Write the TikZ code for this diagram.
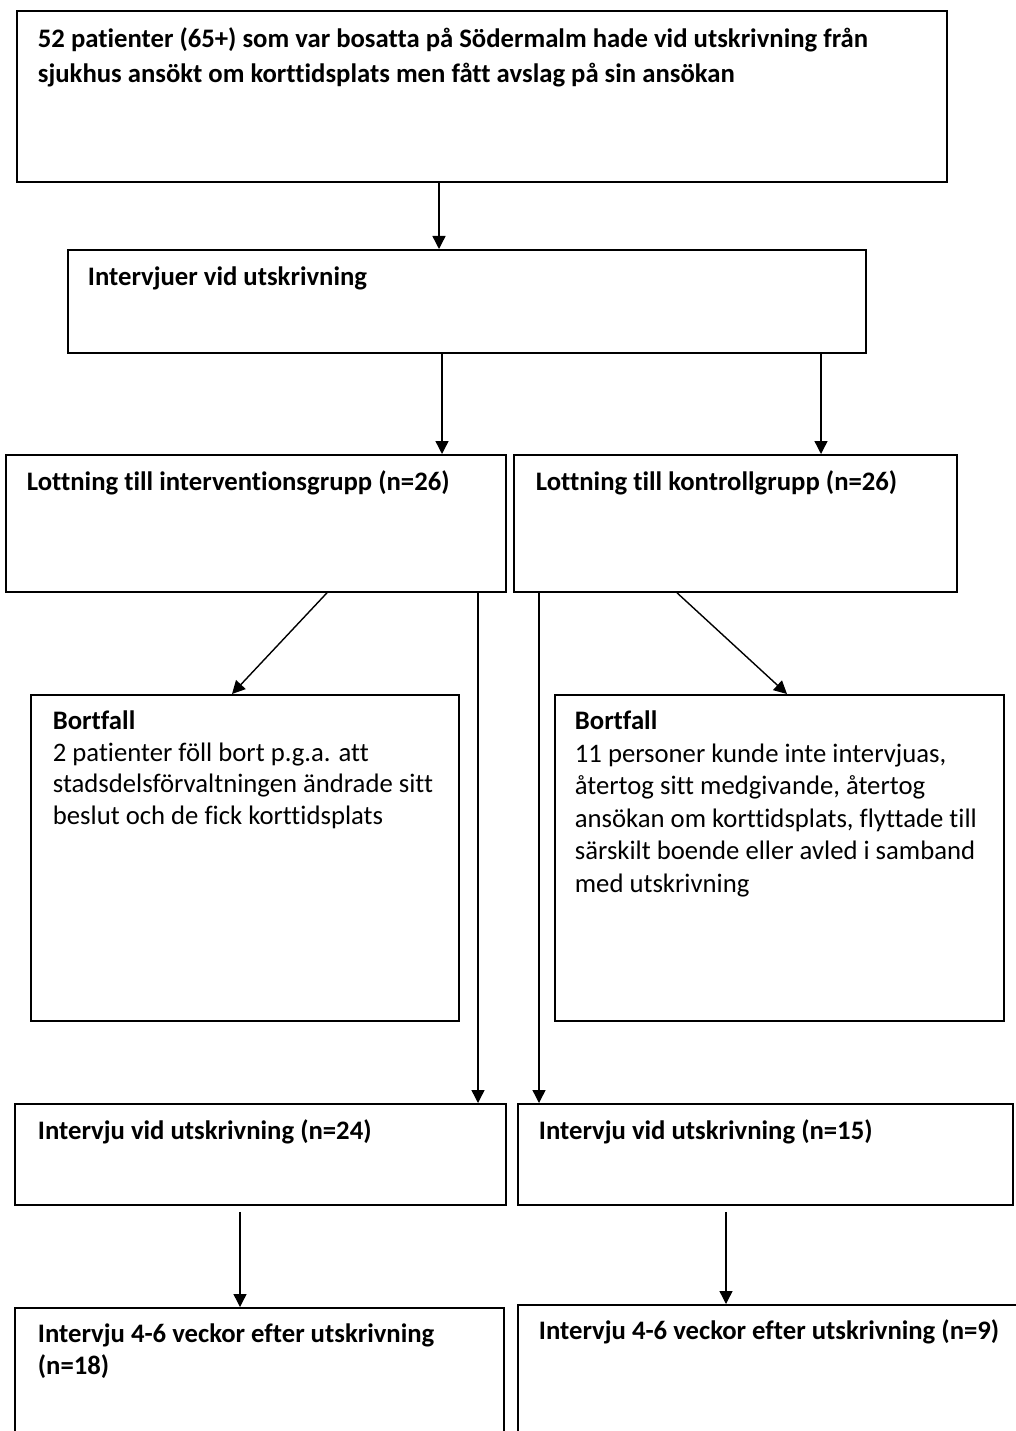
\documentclass[tikz,border=0pt]{standalone}
\usepackage{fontspec}
\setmainfont{Carlito}[Ligatures=NoCommon]
\usetikzlibrary{arrows.meta}
\tikzset{
  bx/.style={draw, line width=1.8pt, inner sep=0pt, anchor=north west},
  arr/.style={line width=1.4pt, -{Triangle[length=13pt,width=13pt]}},
}
% #1 width, #2 height, #3 baselineskip, #4 first baseline, #5 left pad, #6 text
\newcommand{\btext}[6]{\parbox[b][#2][t]{#1}{\fontsize{26.7pt}{#3}\selectfont\raggedright\leftskip=#5\relax\rule{0pt}{#4}#6}}
\begin{document}
\begin{tikzpicture}[x=1pt,y=-1pt]
\useasboundingbox[fill=white] (0,0) rectangle (1016,1431);
\begin{scope}
\clip (0,0) rectangle (1016,1431);
\node[bx] (b1) at (16,10) {\btext{930pt}{171pt}{35pt}{37pt}{21pt}{\bfseries 52 patienter (65+) som var bosatta på Södermalm hade vid utskrivning från\\sjukhus ansökt om korttidsplats men fått avslag på sin ansökan}};
\node[bx] (b2) at (67,249) {\btext{798pt}{103pt}{32pt}{36pt}{20pt}{\bfseries Intervjuer vid utskrivning}};
\node[bx] (b3L) at (5,454) {\btext{500pt}{137pt}{32pt}{36pt}{21pt}{\bfseries Lottning till interventionsgrupp (n=26)}};
\node[bx] (b3R) at (513,454) {\btext{443pt}{137pt}{32pt}{36pt}{22pt}{\bfseries Lottning till kontrollgrupp (n=26)}};
\node[bx] (bL) at (30,694) {\btext{428pt}{326pt}{31.5pt}{35pt}{22pt}{\textbf{Bortfall}\\2 patienter föll bort p.g.a. att\\stadsdelsförvaltningen ändrade sitt\\beslut och de fick korttidsplats}};
\node[bx] (bR) at (554,694) {\btext{449pt}{326pt}{32.5pt}{35pt}{20pt}{\textbf{Bortfall}\\11 personer kunde inte intervjuas,\\återtog sitt medgivande, återtog\\ansökan om korttidsplats, flyttade till\\särskilt boende eller avled i samband\\med utskrivning}};
\node[bx] (b5L) at (14,1103) {\btext{491pt}{101pt}{32pt}{36pt}{23pt}{\bfseries Intervju vid utskrivning (n=24)}};
\node[bx] (b5R) at (517,1103) {\btext{495pt}{101pt}{32pt}{36pt}{21pt}{\bfseries Intervju vid utskrivning (n=15)}};
\node[bx] (b6L) at (14,1307) {\btext{489pt}{140pt}{32pt}{35pt}{23pt}{\bfseries Intervju 4-6 veckor efter utskrivning\\(n=18)}};
\node[bx] (b6R) at (517,1304) {\btext{510pt}{140pt}{32pt}{35pt}{21pt}{\bfseries Intervju 4-6 veckor efter utskrivning (n=9)}};
\end{scope}
\coordinate (x439) at (439,0);
\coordinate (x442) at (442,0);
\coordinate (x821) at (821,0);
\coordinate (x327) at (327,0);
\coordinate (x232) at (232,0);
\coordinate (x478) at (478,0);
\coordinate (x539) at (539,0);
\coordinate (x677) at (677,0);
\coordinate (x787) at (787,0);
\coordinate (x240) at (240,0);
\coordinate (x726) at (726,0);
\draw[arr] (b1.south -| x439) -- (b2.north -| x439);
\draw[arr] (b2.south -| x442) -- (b3L.north -| x442);
\draw[arr] (b2.south -| x821) -- (b3R.north -| x821);
\draw[arr] (b3L.south -| x327) -- (bL.north -| x232);
\draw[arr] (b3L.south -| x478) -- (b5L.north -| x478);
\draw[arr] (b3R.south -| x539) -- (b5R.north -| x539);
\draw[arr] (b3R.south -| x677) -- (bR.north -| x787);
\draw[arr, shorten <=6pt] (b5L.south -| x240) -- (b6L.north -| x240);
\draw[arr, shorten <=6pt] (b5R.south -| x726) -- (b6R.north -| x726);
\end{tikzpicture}
\end{document}
